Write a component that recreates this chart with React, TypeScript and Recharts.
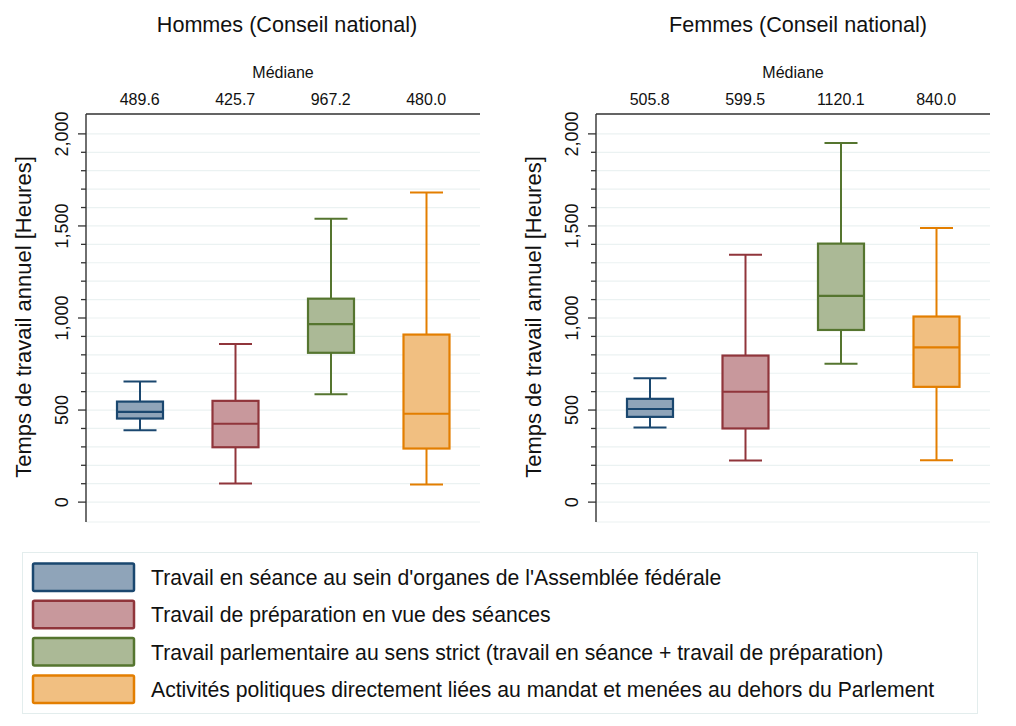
import React from 'react';
import { ComposedChart, Bar, XAxis, YAxis, CartesianGrid } from 'recharts';

const FONT = '"Liberation Sans", Arial, Helvetica, sans-serif';

// ---- data ----
const categories = ['seance', 'preparation', 'strict', 'hors'];
const seriesNames = [
  "Travail en séance au sein d'organes de l'Assemblée fédérale",
  'Travail de préparation en vue des séances',
  'Travail parlementaire au sens strict (travail en séance + travail de préparation)',
  'Activités politiques directement liées au mandat et menées au dehors du Parlement',
];
const panelTitles = ['Hommes (Conseil national)', 'Femmes (Conseil national)'];
const topAxisTitle = 'Médiane';
const yAxisTitle = 'Temps de travail annuel [Heures]';
const yTicks = [0, 100, 200, 300, 400, 500, 600, 700, 800, 900, 1000, 1100, 1200, 1300, 1400, 1500, 1600, 1700, 1800, 1900, 2000];

const hommesMin = [391, 101, 586, 96];
const hommesQ1 = [454, 298, 811, 291];
const hommesMedian = [489.6, 425.7, 967.2, 480.0];
const hommesQ3 = [546, 550, 1105, 910];
const hommesMax = [655, 859, 1539, 1682];

const femmesMin = [405, 226, 752, 228];
const femmesQ1 = [463, 400, 935, 626];
const femmesMedian = [505.8, 599.5, 1120.1, 840.0];
const femmesQ3 = [561, 796, 1404, 1008];
const femmesMax = [673, 1344, 1950, 1489];

const strokeColors = ['#1a476f', '#90353b', '#55752f', '#e37e00'];
const fillColors = ['#8fa4b9', '#c8989c', '#abb996', '#f1bf81'];

type Row = { cat: string; idx: number; min: number; q1: number; median: number; q3: number; max: number };

function buildRows(mins: number[], q1s: number[], meds: number[], q3s: number[], maxs: number[]): Row[] {
  return categories.map((c, i) => ({ cat: c, idx: i, min: mins[i], q1: q1s[i], median: meds[i], q3: q3s[i], max: maxs[i] }));
}

const hommesRows = buildRows(hommesMin, hommesQ1, hommesMedian, hommesQ3, hommesMax);
const femmesRows = buildRows(femmesMin, femmesQ1, femmesMedian, femmesQ3, femmesMax);

const AXIS_COLOR = '#333333';

const BoxShape = (props: any) => {
  const { x, y, width, height, payload } = props;
  if (!payload) return null;
  const top = Math.min(y, y + height);
  const h = Math.abs(height);
  const { min, q1, median, q3, max, idx } = payload as Row;
  const px = (v: number) => top + (h * (max - v)) / (max - min);
  const cx = x + width / 2;
  const cap = 33;
  const stroke = strokeColors[idx];
  const fill = fillColors[idx];
  return (
    <g>
      <line x1={cx} x2={cx} y1={px(max)} y2={px(q3)} stroke={stroke} strokeWidth={2} />
      <line x1={cx} x2={cx} y1={px(q1)} y2={px(min)} stroke={stroke} strokeWidth={2} />
      <line x1={cx - cap / 2} x2={cx + cap / 2} y1={px(max)} y2={px(max)} stroke={stroke} strokeWidth={2} />
      <line x1={cx - cap / 2} x2={cx + cap / 2} y1={px(min)} y2={px(min)} stroke={stroke} strokeWidth={2} />
      <rect x={x} y={px(q3)} width={width} height={px(q1) - px(q3)} fill={fill} stroke={stroke} strokeWidth={2.2} />
      <line x1={x} x2={x + width} y1={px(median)} y2={px(median)} stroke={stroke} strokeWidth={2.2} />
    </g>
  );
};

const YTick = (props: any) => {
  const { x, y, payload } = props;
  const v = payload.value as number;
  const major = v % 500 === 0;
  const tx = x - 18;
  return (
    <g>
      <line x1={x - (major ? 8 : 5)} x2={x} y1={y} y2={y} stroke={AXIS_COLOR} strokeWidth={1.3} />
      {major && (
        <text x={tx} y={y} transform={`rotate(-90 ${tx} ${y})`} textAnchor="middle" fontSize={18} fontFamily={FONT} fill="#111">
          {v.toLocaleString('en-US')}
        </text>
      )}
    </g>
  );
};

const MedTick = (props: any) => {
  const { x, y, index, rows } = props;
  const r: Row = rows[index];
  return (
    <text x={x} y={y - 9} textAnchor="middle" fontSize={16} fontFamily={FONT} fill="#111">
      {r ? r.median.toFixed(1) : ''}
    </text>
  );
};

const Panel = ({ rows }: { rows: Row[] }) => (
  <ComposedChart width={500} height={540} data={rows} margin={{ top: 60, right: 20, bottom: 18, left: 0 }}>
    <CartesianGrid vertical={false} stroke="#ebf2f2" strokeWidth={1.2} />
    <XAxis
      dataKey="cat"
      orientation="top"
      height={54}
      interval={0}
      padding={{ left: 6, right: 6 }}
      axisLine={{ stroke: AXIS_COLOR, strokeWidth: 1.4 }}
      tickLine={false}
      tickSize={0}
      tickMargin={0}
      tick={<MedTick rows={rows} />}
    />
    <YAxis
      type="number"
      domain={[-108, 2108]}
      ticks={yTicks}
      interval={0}
      allowDataOverflow
      width={86}
      axisLine={{ stroke: AXIS_COLOR, strokeWidth: 1.4 }}
      tickLine={false}
      tickSize={0}
      tickMargin={0}
      tick={<YTick />}
    />
    <Bar
      dataKey={(d: Row) => [d.min, d.max]}
      barSize={46}
      isAnimationActive={false}
      shape={(p: any) => <BoxShape {...p} />}
    />
  </ComposedChart>
);

const panelOffsets = [0, 510];
const titleCenters = [287, 798];

export default function App() {
  return (
    <div style={{ position: 'absolute', left: 0, top: 0, width: 1016, height: 726, background: '#fff', fontFamily: FONT }}>
      {[hommesRows, femmesRows].map((rows, i) => (
        <div key={i} style={{ position: 'absolute', left: panelOffsets[i], top: 0 }}>
          <Panel rows={rows} />
        </div>
      ))}
      <svg width={1016} height={726} style={{ position: 'absolute', left: 0, top: 0, pointerEvents: 'none' }}>
        {panelTitles.map((t, i) => (
          <g key={t}>
            <text x={titleCenters[i]} y={32} textAnchor="middle" fontSize={21.6} fontFamily={FONT} fill="#111">
              {t}
            </text>
            <text x={panelOffsets[i] + 283} y={78} textAnchor="middle" fontSize={16} fontFamily={FONT} fill="#111">
              {topAxisTitle}
            </text>
            <text
              x={panelOffsets[i] + 30.5}
              y={317}
              transform={`rotate(-90 ${panelOffsets[i] + 30.5} 317)`}
              textAnchor="middle"
              fontSize={22}
              fontFamily={FONT}
              fill="#111"
            >
              {yAxisTitle}
            </text>
          </g>
        ))}
        <rect x={22.5} y={552.5} width={955} height={161} fill="#fff" stroke="#e3eded" strokeWidth={1} />
        {seriesNames.map((name, i) => {
          const top = 563.5 + i * 37.3;
          return (
            <g key={name}>
              <rect x={33} y={top} width={101} height={27.5} rx={1.5} fill={fillColors[i]} stroke={strokeColors[i]} strokeWidth={2.5} />
              <text x={151} y={top + 21.5} fontSize={21.2} fontFamily={FONT} fill="#111">
                {name}
              </text>
            </g>
          );
        })}
      </svg>
    </div>
  );
}
